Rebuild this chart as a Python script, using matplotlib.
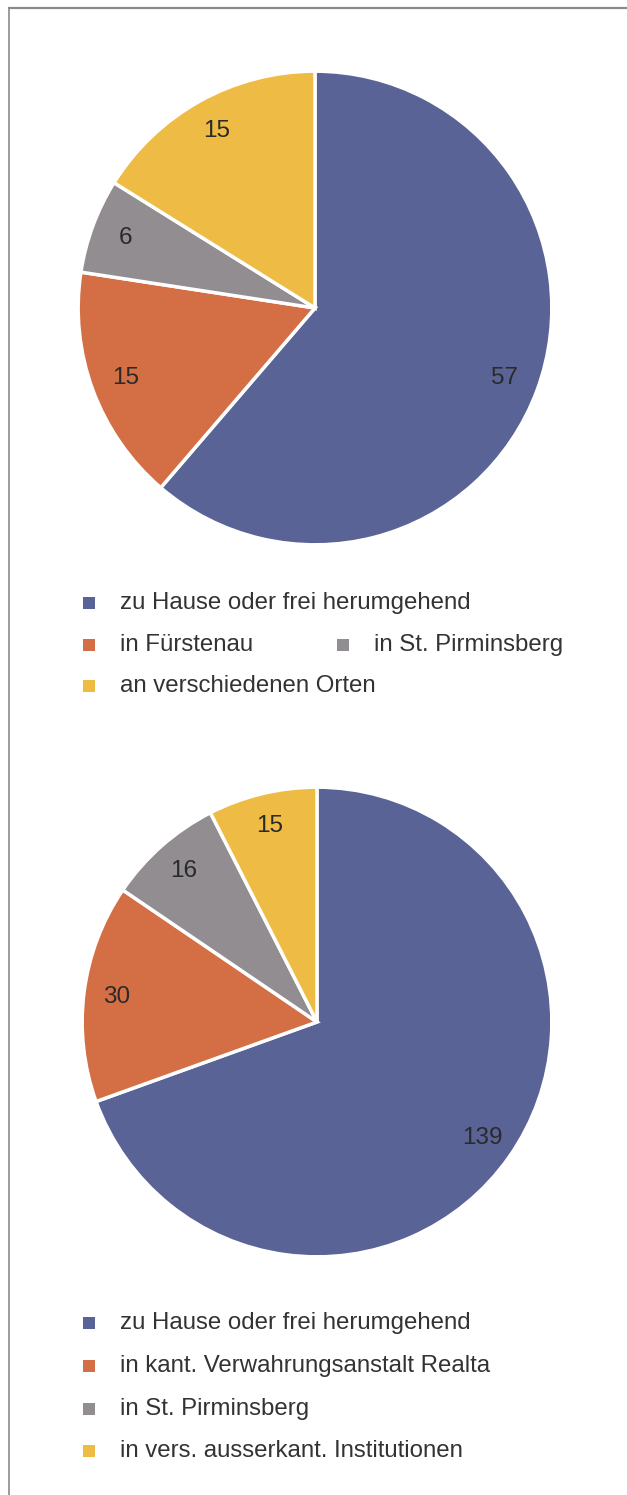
import matplotlib.pyplot as plt

plt.rcParams['font.family'] = ['Liberation Sans', 'DejaVu Sans']

W, H = 627, 1495

colors = ['#5a6396', '#d46f45', '#928d90', '#eebb45']

values1 = [57, 15, 6, 15]
labels1 = ['zu Hause oder frei herumgehend', 'in Fürstenau',
           'in St. Pirminsberg', 'an verschiedenen Orten']

values2 = [139, 30, 16, 15]
labels2 = ['zu Hause oder frei herumgehend', 'in kant. Verwahrungsanstalt Realta',
           'in St. Pirminsberg', 'in vers. ausserkant. Institutionen']

fig = plt.figure(figsize=(W / 100, H / 100), dpi=100)


def pie_at(cx, cy, r, values, ldist):
    ax = fig.add_axes([(cx - r) / W, (H - cy - r) / H, 2 * r / W, 2 * r / H])
    ax.pie(values, colors=colors, startangle=90, counterclock=False,
           labels=[str(v) for v in values], labeldistance=ldist,
           wedgeprops=dict(edgecolor='white', linewidth=2.5),
           textprops=dict(fontsize=17.5, color='#2a2a2a'))
    ax.set_xlim(-1.005, 1.005)
    ax.set_ylim(-1.005, 1.005)
    for t in ax.texts:
        t.set_ha('center')
        t.set_va('center')
    return ax


pie_at(315, 308, 238, values1, 0.855)
pie_at(317, 1022, 236, values2, 0.86)

# overlay in pixel coordinates for frame and legends
ov = fig.add_axes([0, 0, 1, 1], zorder=5)
ov.set_xlim(0, W)
ov.set_ylim(H, 0)
ov.axis('off')
ov.patch.set_alpha(0)

ov.plot([8, W], [7.5, 7.5], color='#8a8a8a', lw=1.6, solid_capstyle='butt')
ov.plot([8.5, 8.5], [7, H], color='#8a8a8a', lw=1.2, solid_capstyle='butt')

# legend 1 (second row has two columns)
leg1 = [(89, 603), (89, 645), (343, 645), (89, 686)]
for (x, y), lab, c in zip(leg1, labels1, colors):
    ov.scatter([x], [y], marker='s', s=70, color=c, linewidths=0)
    ov.text(x + 31, y, lab, fontsize=17.3, color='#333333', va='center', ha='left')

# legend 2
leg2_y = [1323, 1366, 1409, 1451]
for y, lab, c in zip(leg2_y, labels2, colors):
    ov.scatter([89], [y], marker='s', s=70, color=c, linewidths=0)
    ov.text(120, y, lab, fontsize=17.3, color='#333333', va='center', ha='left')

fig.savefig('out.png', dpi=100)
